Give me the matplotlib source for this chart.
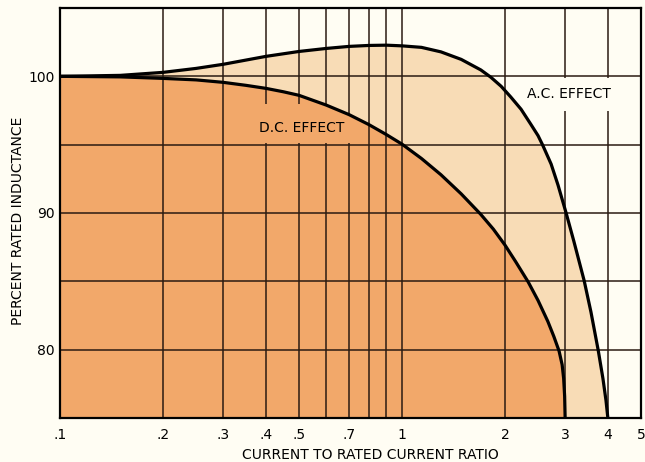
import matplotlib
matplotlib.use("Agg")
import matplotlib.pyplot as plt
from matplotlib.patches import Rectangle

# Inductance (percent of rated) against current ratio, D.C. and A.C. curves
dc_ratio = [0.10, 0.15, 0.20, 0.25, 0.30, 0.35, 0.40, 0.45, 0.50, 0.60, 0.70, 0.80,
            0.90, 1.00, 1.14, 1.30, 1.49, 1.70, 1.85, 2.00, 2.15, 2.34, 2.50, 2.67,
            2.78, 2.88, 2.94, 2.97, 2.99, 3.00]
dc_pct = [100.0, 99.96, 99.85, 99.74, 99.56, 99.34, 99.12, 98.87, 98.61, 97.90, 97.20, 96.47,
          95.74, 95.04, 93.99, 92.80, 91.40, 89.90, 88.82, 87.66, 86.44, 84.95, 83.60, 82.07,
          80.97, 79.90, 78.90, 77.90, 76.60, 75.00]

ac_ratio = [0.10, 0.15, 0.20, 0.25, 0.30, 0.40, 0.50, 0.60, 0.70, 0.80, 0.90, 1.00,
            1.14, 1.30, 1.49, 1.70, 1.82, 1.95, 2.08, 2.23, 2.38, 2.50, 2.58, 2.73,
            2.86, 3.02, 3.18, 3.41, 3.57, 3.75, 3.87, 3.95, 4.00]
ac_pct = [100.0, 100.07, 100.29, 100.58, 100.88, 101.46, 101.82, 102.04, 102.19, 102.26, 102.28, 102.23,
          102.12, 101.79, 101.24, 100.47, 99.93, 99.27, 98.49, 97.59, 96.50, 95.66, 94.96, 93.58,
          92.04, 90.00, 87.95, 85.05, 82.75, 79.93, 77.88, 76.28, 75.00]

x_grid = [0.1, 0.2, 0.3, 0.4, 0.5, 0.6, 0.7, 0.8, 0.9, 1, 2, 3, 4, 5]
x_labels = ['.1', '.2', '.3', '.4', '.5', '', '.7', '', '', '1', '2', '3', '4', '5']
y_grid = [75, 80, 85, 90, 95, 100, 105]
y_labels = ['', '80', '', '90', '', '100', '']

PAPER = '#fffdf3'
DC_FILL = '#f2a86a'
AC_FILL = '#f8dcb6'
GRID = '#2b1b12'

fig = plt.figure(figsize=(6.45, 4.62), dpi=100, facecolor=PAPER)
ax = fig.add_axes([60 / 645, 44 / 462, 581 / 645, 410 / 462])
ax.set_facecolor(PAPER)
ax.set_xscale('log')
ax.set_xlim(0.1, 5)
ax.set_ylim(75, 105)

# shaded areas under each curve
ax.fill_between(ac_ratio, 75, ac_pct, color=AC_FILL, lw=0, zorder=0.8)
dc_poly = ax.fill_between(dc_ratio, 75, dc_pct, color=DC_FILL, lw=0, zorder=1)

ax.plot(ac_ratio, ac_pct, color='black', lw=2.3, zorder=2)
ax.plot(dc_ratio, dc_pct, color='black', lw=2.3, zorder=2)

# blank patches behind the curve labels so the grid stops there
dc_box = Rectangle((0.36, 95.12), 0.75 - 0.36, 98.0 - 95.12, fc=DC_FILL, ec='none', zorder=1.8)
ax.add_patch(dc_box)
dc_box.set_clip_path(dc_poly.get_paths()[0], dc_poly.get_transform())
ax.add_patch(Rectangle((2.35, 97.45), 4.75 - 2.35, 99.85 - 97.45, fc=PAPER, ec='none', zorder=1.8))

ax.text(0.51, 96.25, 'D.C. EFFECT', ha='center', va='center', fontsize=10, zorder=3)
ax.text(3.08, 98.7, 'A.C. EFFECT', ha='center', va='center', fontsize=10, zorder=3)

ax.set_xticks(x_grid)
ax.set_xticklabels(x_labels)
ax.xaxis.set_minor_locator(plt.NullLocator())
ax.set_yticks(y_grid)
ax.set_yticklabels(y_labels)
ax.tick_params(axis='x', length=0, pad=7, labelsize=10)
ax.tick_params(axis='y', length=0, pad=4, labelsize=10)

ax.set_axisbelow('line')
ax.grid(True, color=GRID, lw=1.1)
for s in ax.spines.values():
    s.set_linewidth(1.6)
    s.set_color('black')

ax.set_xlabel('CURRENT TO RATED CURRENT RATIO', fontsize=10)
ax.xaxis.set_label_coords(0.534, -0.073)
ax.set_ylabel('PERCENT RATED INDUCTANCE', fontsize=10)
ax.yaxis.set_label_coords(-0.06, 0.48)

fig.savefig('out.png', dpi=100, facecolor=PAPER)
